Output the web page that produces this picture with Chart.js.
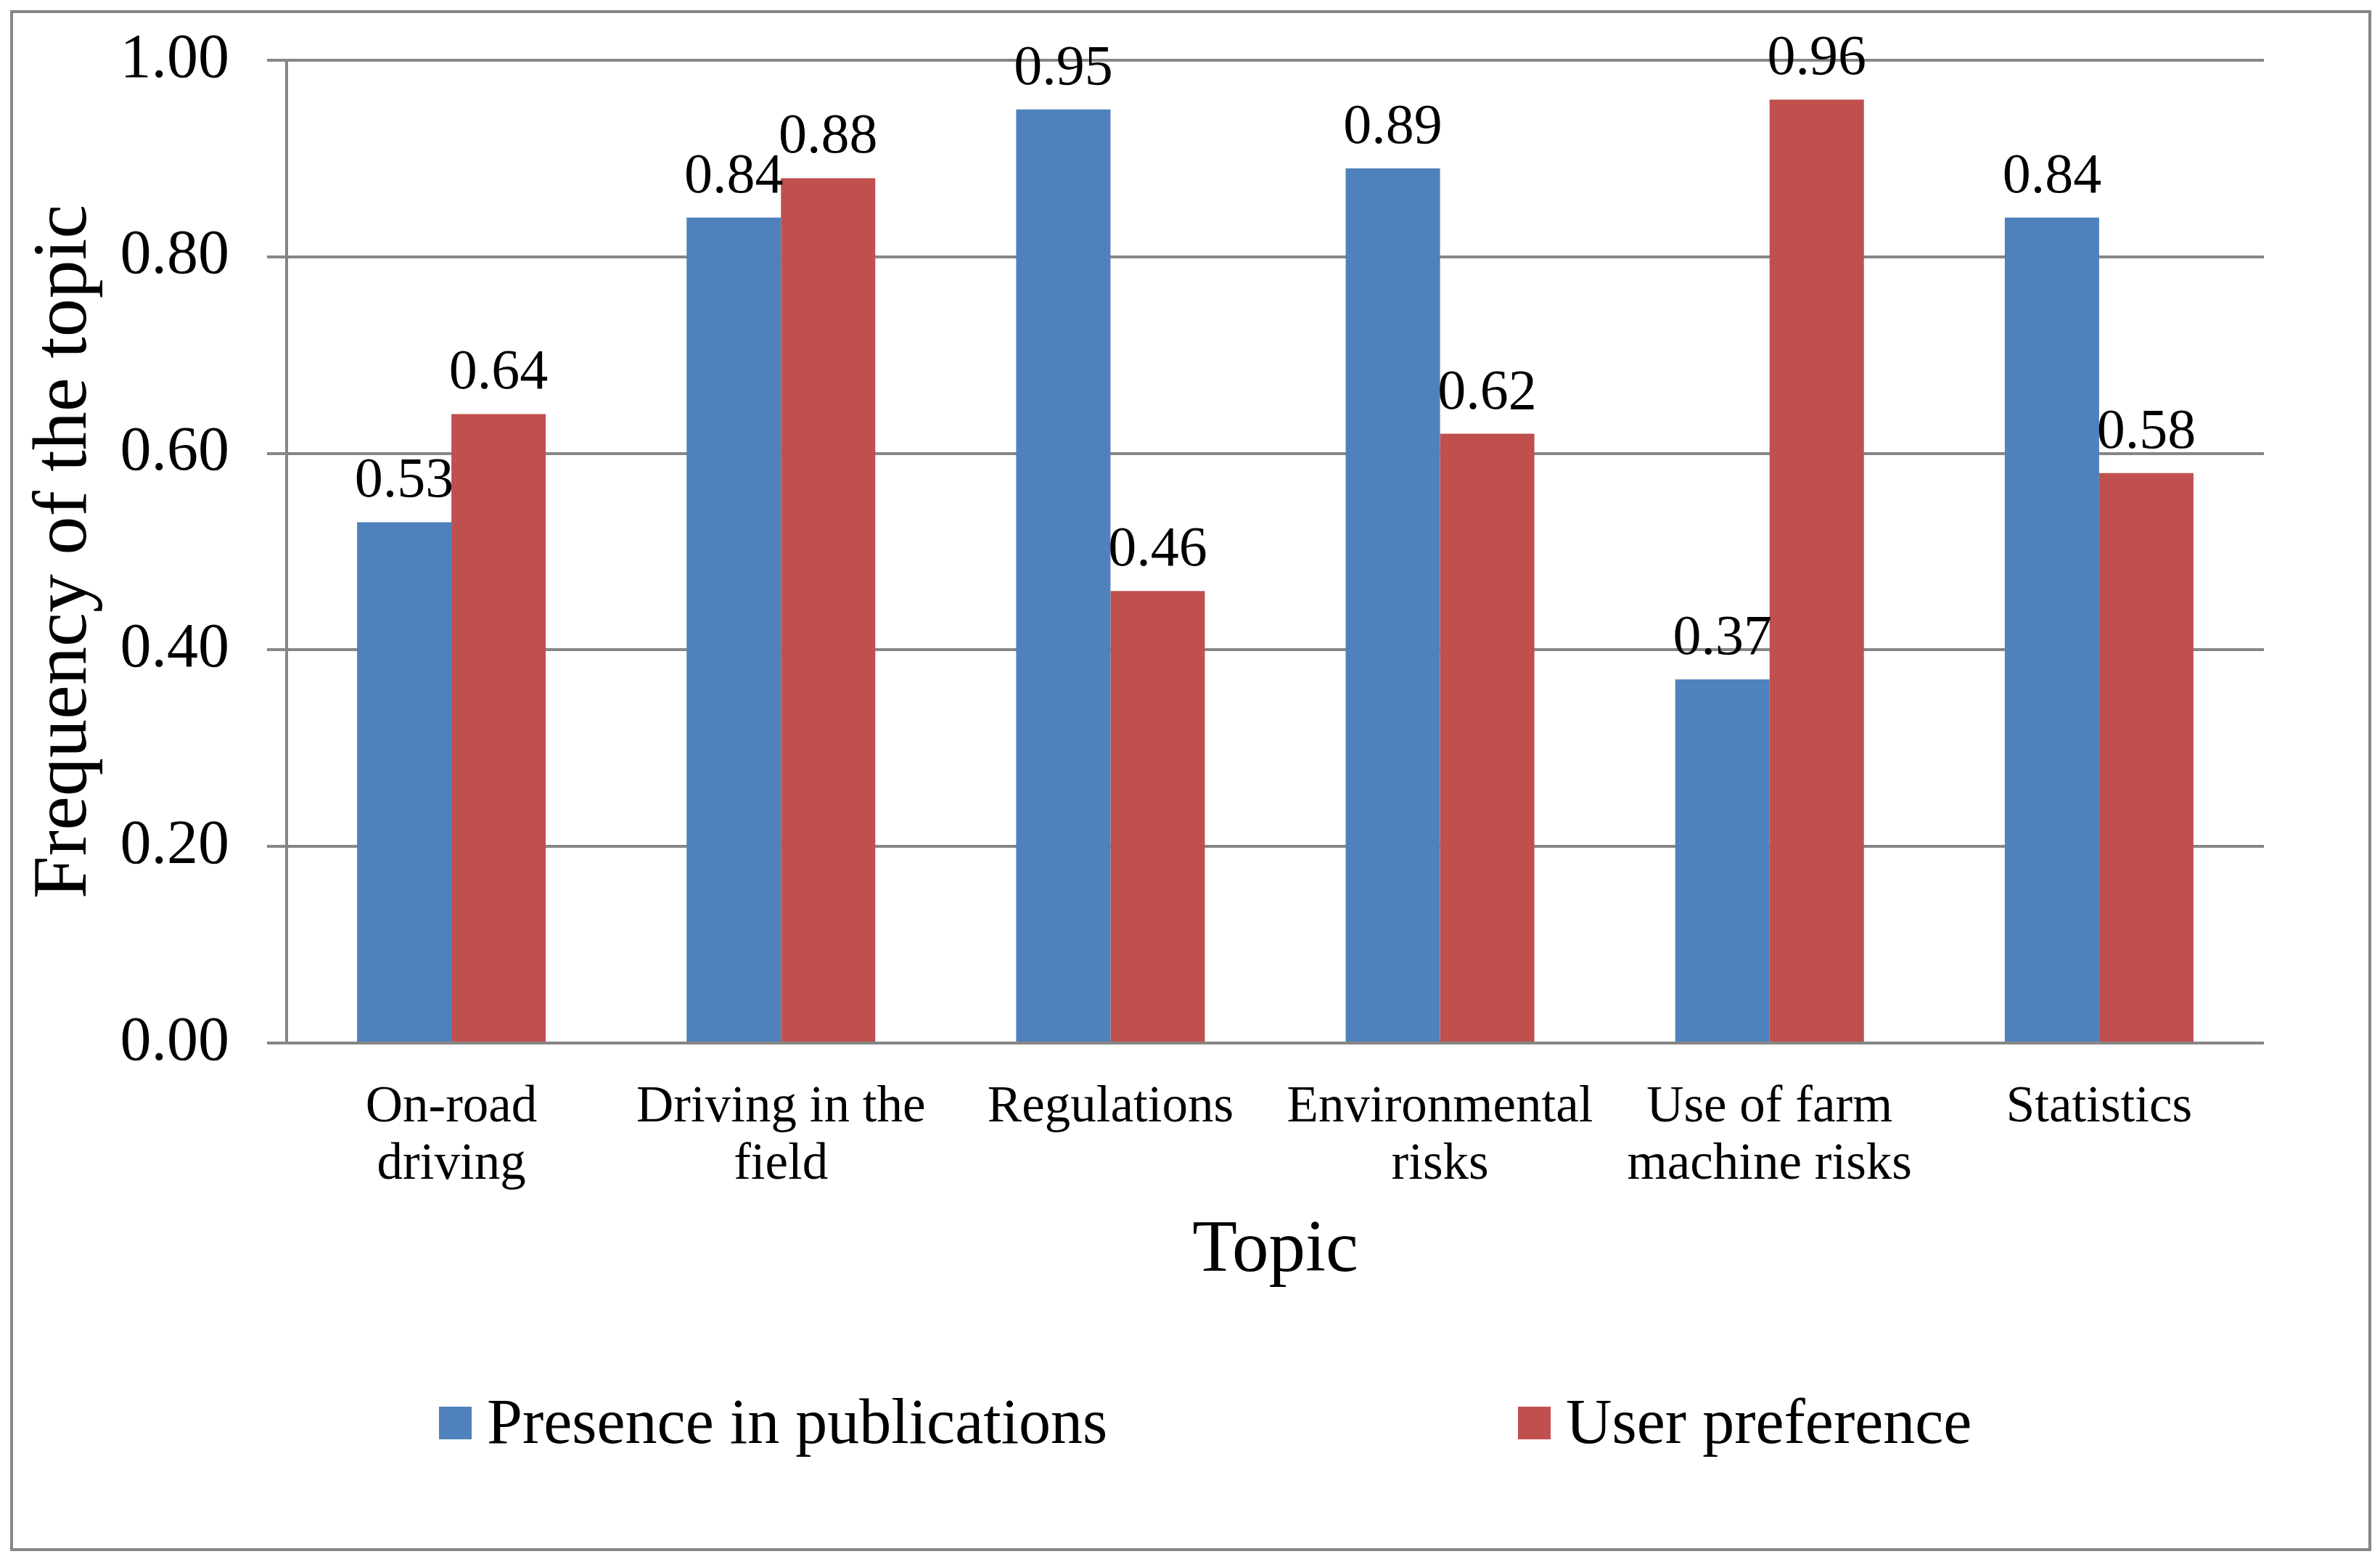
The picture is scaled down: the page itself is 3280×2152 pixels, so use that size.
<!DOCTYPE html>
<html>
<head>
<meta charset="utf-8">
<title>Frequency of the topic</title>
<script src="https://cdn.jsdelivr.net/npm/chart.js@4.4.1/dist/chart.umd.min.js"></script>
<style>
  html, body { margin: 0; padding: 0; background: #ffffff; }
  #mycanvas { display: block; background: #ffffff; }
</style>
</head>
<body>
<canvas id="mycanvas" width="3280" height="2152"></canvas>
<script>
//-------------------------
// Data
//-------------------------
var topics = [
  ["On-road", "driving"],
  ["Driving in the", "field"],
  "Regulations",
  ["Environmental", "risks"],
  ["Use of farm", "machine risks"],
  "Statistics"
];
var presence = [0.53, 0.84, 0.95, 0.89, 0.37, 0.84];   // Presence in publications
var userPref = [0.64, 0.88, 0.46, 0.62, 0.96, 0.58];   // User preference
var yTicks = [0, 0.2, 0.4, 0.6, 0.8, 1.0];

var FONT = "'Liberation Serif', 'Times New Roman', serif";
var GRAY = '#868686';

//-------------------------
// Plugins
//-------------------------
// value labels over each bar
var barLabels = {
  id: 'barLabels',
  afterDatasetsDraw: function(chart) {
    var ctx = chart.ctx;
    ctx.save();
    ctx.font = '78px ' + FONT;
    ctx.fillStyle = '#000000';
    ctx.textAlign = 'center';
    ctx.textBaseline = 'alphabetic';
    chart.data.datasets.forEach(function(ds, i) {
      chart.getDatasetMeta(i).data.forEach(function(bar, j) {
        ctx.fillText(ds.data[j].toFixed(2), bar.x, bar.y - 35);
      });
    });
    ctx.restore();
  }
};

// outer frame + spread out legend like the original
var frameAndLegend = {
  id: 'frameAndLegend',
  afterDraw: function(chart) {
    var ctx = chart.ctx;
    ctx.save();
    ctx.strokeStyle = GRAY;
    ctx.lineWidth = 4;
    ctx.strokeRect(16, 16, 3250, 2119);

    var itemX = [605, 2092]; // left edge of each legend swatch
    var midY = 1960;
    ctx.font = '88px ' + FONT;
    ctx.textAlign = 'left';
    ctx.textBaseline = 'alphabetic';
    chart.data.datasets.forEach(function(ds, i) {
      ctx.fillStyle = ds.backgroundColor;
      ctx.fillRect(itemX[i], midY - 22, 45, 45);
      ctx.fillStyle = '#000000';
      ctx.fillText(ds.label, itemX[i] + 66, midY + 28);
    });
    ctx.restore();
  }
};

//-------------------------
// Main Program
//-------------------------
var chartdata = {
  labels: topics,
  datasets: [
    {
      label: 'Presence in publications',
      backgroundColor: '#4F81BD',
      data: presence
    },
    {
      label: 'User preference',
      backgroundColor: '#C0504D',
      data: userPref
    }
  ]
};

var ctx = document.getElementById('mycanvas');

var barGraph = new Chart(ctx, {
  type: 'bar',
  data: chartdata,
  plugins: [barLabels, frameAndLegend],
  options: {
    responsive: false,
    animation: false,
    devicePixelRatio: 1,
    layout: { padding: { top: 83, right: 160, bottom: 367, left: 0 } },
    datasets: {
      bar: { barPercentage: 1.0, categoryPercentage: 0.5725 }
    },
    plugins: {
      legend: { display: false },
      tooltip: { enabled: false }
    },
    scales: {
      x: {
        grid: { display: false, drawTicks: false },
        border: { display: false },
        ticks: {
          color: '#000000',
          font: { family: FONT, size: 71, lineHeight: 1.11 },
          padding: 50,
          maxRotation: 0,
          autoSkip: false
        },
        title: {
          display: true,
          text: 'Topic',
          color: '#000000',
          font: { family: FONT, size: 101, lineHeight: 1.2 },
          padding: { top: 0, bottom: 0 }
        },
        afterFit: function(scale) { scale.height = 348; }
      },
      y: {
        min: 0,
        max: 1,
        afterBuildTicks: function(scale) {
          scale.ticks = yTicks.map(function(v) { return { value: v }; });
        },
        grid: { color: GRAY, lineWidth: 4, tickLength: 27, drawTicks: true },
        border: { display: true, color: GRAY, width: 4 },
        ticks: {
          color: '#000000',
          font: { family: FONT, size: 86 },
          padding: 52,
          callback: function(v) { return Number(v).toFixed(2); }
        },
        title: {
          display: true,
          text: 'Frequency of the topic',
          color: '#000000',
          font: { family: FONT, size: 106, lineHeight: 1.2 },
          padding: { top: 27, bottom: 0 }
        },
        afterFit: function(scale) {
          scale.width = 395;
          // keep the tick label padding from pushing the plot top down
          scale.paddingTop = 40;
          scale.paddingBottom = 40;
        }
      }
    }
  }
});
</script>
</body>
</html>
